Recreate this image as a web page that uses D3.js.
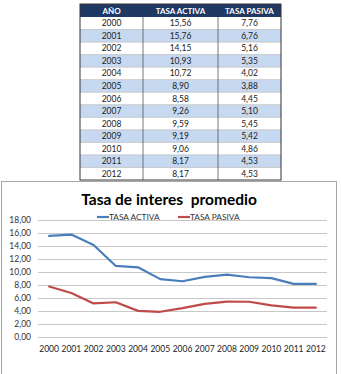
<!DOCTYPE html>
<html><head><meta charset="utf-8">
<script src="https://cdn.jsdelivr.net/npm/d3@7"></script>
<style>
body{margin:0;background:#fff;}
svg{display:block;font-family:Lato,"Open Sans",sans-serif;}
</style></head>
<body><svg id="c" width="341" height="374"></svg>
<script>
const years = ["2000","2001","2002","2003","2004","2005","2006","2007","2008","2009","2010","2011","2012"];
const tasaActiva = [15.56,15.76,14.15,10.93,10.72,8.90,8.58,9.26,9.59,9.19,9.06,8.17,8.17];
const tasaPasiva = [7.76,6.76,5.16,5.35,4.02,3.88,4.45,5.10,5.45,5.42,4.86,4.53,4.53];
const headers = ["AÑO","TASA ACTIVA","TASA PASIVA"];
const seriesNames = ["TASA ACTIVA","TASA PASIVA"];
const yTicks = [0,2,4,6,8,10,12,14,16,18];
const title = "Tasa de interes  promedio";

const svg = d3.select("#c");
const fmt = v => d3.format(".2f")(v).replace(".", ",");

// ---------- table ----------
const tx = [80,143,218,281];
const tTop = 4, hH = 13, rH = 12.54;
const tg = svg.append("g");
tg.append("rect").attr("x",tx[0]).attr("y",tTop).attr("width",tx[3]-tx[0]).attr("height",hH).attr("fill","#1f3864");
headers.forEach((h,i)=>{
  tg.append("text").attr("x",(tx[i]+tx[i+1])/2).attr("y",tTop+hH/2+3)
    .attr("text-anchor","middle").attr("fill","#fff").attr("font-weight","bold").attr("font-size",8).text(h);
});
years.forEach((y,r)=>{
  const y0 = tTop+hH+r*rH;
  tg.append("rect").attr("x",tx[0]).attr("y",y0).attr("width",tx[3]-tx[0]).attr("height",rH)
    .attr("fill", r%2===1 ? "#c6d9f1" : "#fff");
  if(r>0) tg.append("line").attr("x1",tx[0]).attr("x2",tx[3]).attr("y1",y0).attr("y2",y0).attr("stroke","#bfbfbf").attr("stroke-width",0.8);
  const vals=[y,fmt(tasaActiva[r]),fmt(tasaPasiva[r])];
  vals.forEach((v,i)=>{
    tg.append("text").attr("x",(tx[i]+tx[i+1])/2).attr("y",y0+rH/2+3)
      .attr("text-anchor","middle").attr("fill","#222").attr("font-size",8.5).text(v);
  });
});
const tBot = tTop+hH+years.length*rH;
[1,2].forEach(i=>tg.append("line").attr("x1",tx[i]).attr("x2",tx[i]).attr("y1",tTop+hH).attr("y2",tBot).attr("stroke","#555").attr("stroke-width",0.8));
tg.append("rect").attr("x",tx[0]).attr("y",tTop).attr("width",tx[3]-tx[0]).attr("height",tBot-tTop)
  .attr("fill","none").attr("stroke","#333").attr("stroke-width",1);

// ---------- chart ----------
svg.append("rect").attr("x",1.5).attr("y",181.5).attr("width",335).attr("height",200)
  .attr("fill","#fff").attr("stroke","#a6a6a6").attr("stroke-width",1);

const x = d3.scaleBand().domain(years).range([38,327]);
const y = d3.scaleLinear().domain([0,18]).range([337,220]);

const grid = svg.append("g");
yTicks.forEach(t=>{
  grid.append("line").attr("x1",38).attr("x2",327).attr("y1",Math.round(y(t))+0.5).attr("y2",Math.round(y(t))+0.5)
    .attr("stroke","#c8c8c8").attr("stroke-width",1);
});
const yAxis = svg.append("g").attr("transform","translate(38,0)")
  .call(d3.axisLeft(y).tickValues(yTicks).tickFormat(fmt).tickSize(0).tickPadding(7));
yAxis.select(".domain").remove();
yAxis.selectAll("text").attr("font-size",8.5).attr("fill","#333").attr("font-family","Lato,'Open Sans',sans-serif");

const xAxis = svg.append("g").attr("transform","translate(0,337)")
  .call(d3.axisBottom(x).tickSize(0).tickPadding(9));
xAxis.select(".domain").remove();
xAxis.selectAll("text").attr("font-size",8.5).attr("fill","#222").attr("font-family","Lato,'Open Sans',sans-serif");

const line = d3.line().x((d,i)=>x(years[i])+x.bandwidth()/2).y(d=>y(d));
const colors = ["#4a7ebb","#be4b48"];
[tasaActiva,tasaPasiva].forEach((s,k)=>{
  svg.append("path").datum(s).attr("d",line).attr("fill","none").attr("stroke",colors[k])
    .attr("stroke-width",2.2).attr("stroke-linejoin","round").attr("stroke-linecap","round");
});

svg.append("text").attr("x",169).attr("y",205).attr("text-anchor","middle")
  .attr("font-weight","bold").attr("font-size",15.5).attr("fill","#000")
  .attr("xml:space","preserve").style("white-space","pre").text(title);

const legX = [97,178];
seriesNames.forEach((n,k)=>{
  svg.append("line").attr("x1",legX[k]).attr("x2",legX[k]+12).attr("y1",217).attr("y2",217)
    .attr("stroke",colors[k]).attr("stroke-width",2.2);
  svg.append("text").attr("x",legX[k]+12).attr("y",220).attr("font-size",8.3).attr("fill","#333").text(n);
});
</script></body></html>
